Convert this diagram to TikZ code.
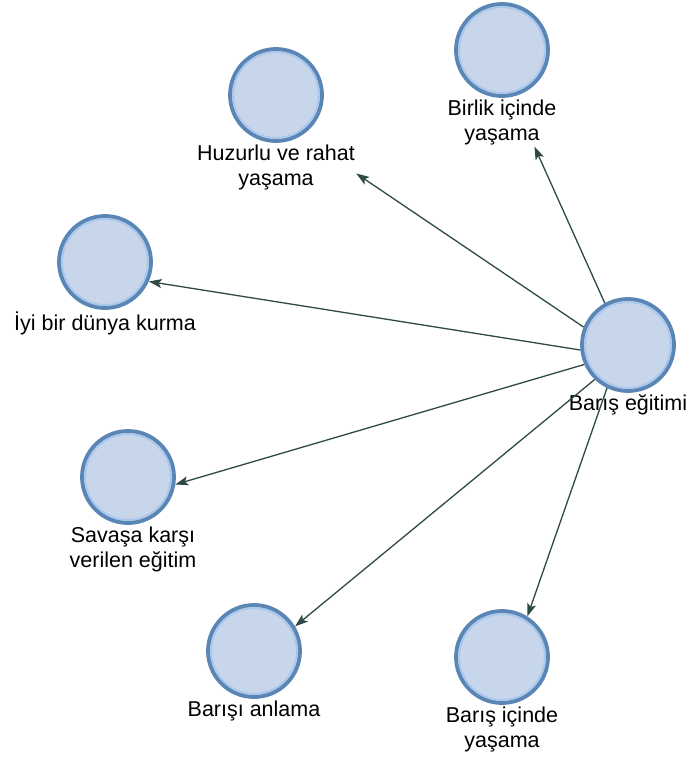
\documentclass[tikz,border=0pt]{standalone}
\usepackage{fontspec}
\setmainfont{Liberation Sans}
\usetikzlibrary{positioning,fit,arrows.meta}
\definecolor{ringout}{HTML}{5A86B6}
\definecolor{ringin}{HTML}{A9C7EE}
\definecolor{bubble}{HTML}{C7D6EA}
\definecolor{linkcol}{HTML}{2F4A46}
\tikzset{
	bub/.style={circle, draw=ringout, fill=bubble, line width=3.8pt, minimum size=92pt, inner sep=0pt,
		path picture={\draw[ringin, line width=1.6pt] (path picture bounding box.center) circle (42.8pt);}},
	txt/.style={align=center, inner sep=1pt, font=\fontsize{21.5}{25}\selectfont},
	link/.style={draw=linkcol, line width=1.3pt, -{Stealth[length=13pt, width=9pt, inset=3pt]}},
}
\begin{document}
\begin{tikzpicture}[x=1pt, y=-1pt]
	\useasboundingbox (0,0) rectangle (689,758);
	\fill[white] (0,0) rectangle (689,758);

	\node[bub] (hub) at (628,345) {};
	\node[txt, below=1pt of hub] (hub-t) {Barış eğitimi};

	\node[bub] (birlik) at (502,50) {};
	\node[txt, below=1pt of birlik] (birlik-t) {Birlik içinde\\yaşama};
	\node[bub] (huzur) at (276,95) {};
	\node[txt, below=1pt of huzur] (huzur-t) {Huzurlu ve rahat\\yaşama};
	\node[bub] (iyi) at (105,262) {};
	\node[txt, below=1pt of iyi] (iyi-t) {İyi bir dünya kurma};
	\node[bub] (savas) at (128,477) {};
	\node[txt, below=1pt of savas, xshift=5pt] (savas-t) {Savaşa karşı\\verilen eğitim};
	\node[bub] (anlama) at (254,651) {};
	\node[txt, below=1pt of anlama] (anlama-t) {Barışı anlama};
	\node[bub] (icinde) at (502,657) {};
	\node[txt, below=1pt of icinde] (icinde-t) {Barış içinde\\yaşama};

	% circle and its text taken as one block
	\node[fit=(birlik)(birlik-t), inner sep=0pt] (birlik-g) {};
	\node[fit=(huzur)(huzur-t), inner sep=0pt] (huzur-g) {};

	\foreach \a/\b in {119/birlik-g, 158/huzur-g, 186/iyi.-24, 204/savas.-9, 226/anlama.31, 244/icinde.58} {
		\draw[link] (hub.\a) -- (\b);
	}
\end{tikzpicture}
\end{document}
